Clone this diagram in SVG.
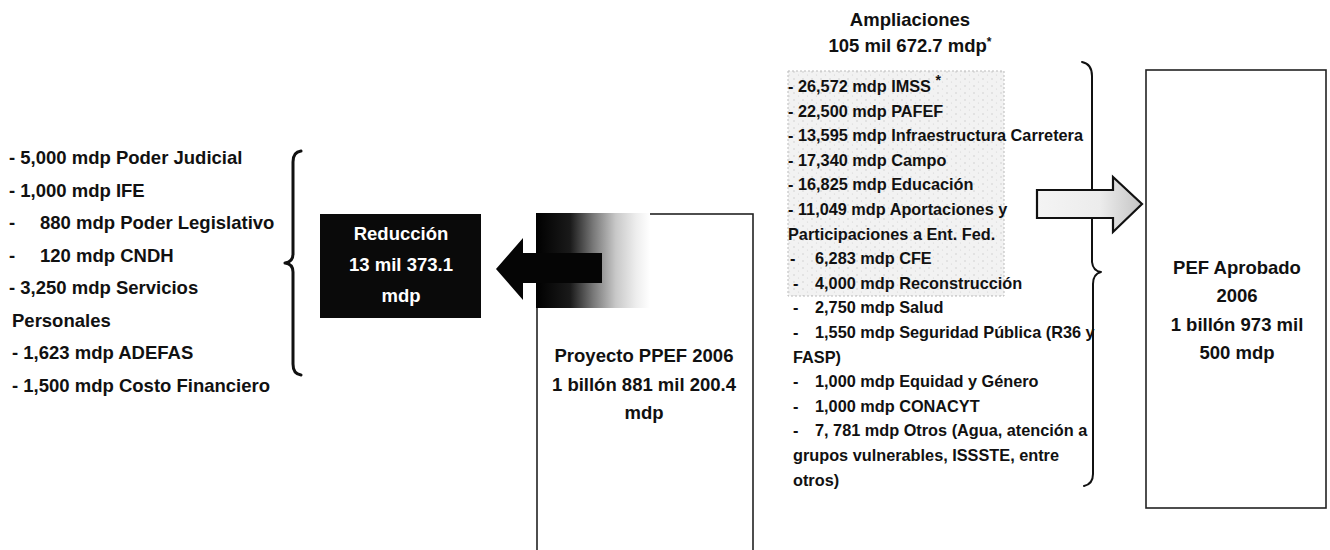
<svg xmlns="http://www.w3.org/2000/svg" width="1330" height="550" viewBox="0 0 1330 550">
<style>
text{font-family:"Liberation Sans",Arial,sans-serif;font-weight:bold;fill:#111}
.l{font-size:18.5px}
.a{font-size:16.3px}
.c{text-anchor:middle;font-size:18.5px}
.w{fill:#fff}
.brace{fill:none;stroke:#111;stroke-linecap:round;stroke-linejoin:round}
</style>
<defs>
<linearGradient id="fade" x1="0" y1="0" x2="1" y2="0">
<stop offset="0" stop-color="#000"/>
<stop offset="0.3" stop-color="#1a1a1a"/>
<stop offset="0.5" stop-color="#777"/>
<stop offset="0.7" stop-color="#c8c8c8"/>
<stop offset="0.88" stop-color="#eee"/>
<stop offset="1" stop-color="#fff"/>
</linearGradient>
<linearGradient id="arrowFill" x1="0" y1="0" x2="1" y2="0">
<stop offset="0" stop-color="#f4f4f4"/>
<stop offset="0.6" stop-color="#ececec"/>
<stop offset="1" stop-color="#c4c4c4"/>
</linearGradient>
<pattern id="speck" width="9" height="7" patternUnits="userSpaceOnUse">
<rect width="9" height="7" fill="#f2f2f2"/>
<circle cx="2" cy="2" r="0.7" fill="#c8c8c8"/>
<circle cx="6.5" cy="5" r="0.6" fill="#d4d4d4"/>
</pattern>
</defs>

<g id="reducciones-lista">
<text class="l" x="9" y="164">- 5,000 mdp Poder Judicial</text>
<text class="l" x="9" y="197">- 1,000 mdp IFE</text>
<text class="l" x="9" y="229">-</text><text class="l" x="40" y="229">880 mdp Poder Legislativo</text>
<text class="l" x="9" y="262">-</text><text class="l" x="40" y="262">120 mdp CNDH</text>
<text class="l" x="9" y="294">- 3,250 mdp Servicios</text>
<text class="l" x="12" y="327">Personales</text>
<text class="l" x="12" y="359">- 1,623 mdp ADEFAS</text>
<text class="l" x="12" y="392">- 1,500 mdp Costo Financiero</text>
</g>

<g id="reduccion">
<rect x="320" y="214" width="161" height="104" fill="#0a0a0a"/>
<text class="c w" x="401" y="240">Reducción</text>
<text class="c w" x="401" y="271">13 mil 373.1</text>
<text class="c w" x="401" y="302">mdp</text>
</g>

<g id="proyecto">
<rect x="537" y="214" width="216" height="345" fill="#fff" stroke="#222" stroke-width="1.6"/>
<rect x="536" y="213" width="114" height="95" fill="url(#fade)"/>
<text class="c" x="644" y="362">Proyecto PPEF 2006</text>
<text class="c" x="644" y="391">1 billón 881 mil 200.4</text>
<text class="c" x="644" y="419">mdp</text>
</g>

<g id="ampliaciones">
<rect x="788" y="71" width="216" height="225" fill="url(#speck)" stroke="#bbb" stroke-width="1" stroke-dasharray="2 2"/>
<text class="c" x="910" y="26">Ampliaciones</text>
<text class="c" x="910" y="52">105 mil 672.7 mdp<tspan font-size="12" dy="-6">*</tspan></text>
<text class="a" x="788" y="92">- 26,572 mdp IMSS <tspan font-size="14" dy="-7">*</tspan></text>
<text class="a" x="788" y="117">- 22,500 mdp PAFEF</text>
<text class="a" x="788" y="141">- 13,595 mdp Infraestructura Carretera</text>
<text class="a" x="788" y="166">- 17,340 mdp Campo</text>
<text class="a" x="788" y="190">- 16,825 mdp Educación</text>
<text class="a" x="788" y="215">- 11,049 mdp Aportaciones y</text>
<text class="a" x="788" y="240">Participaciones a Ent. Fed.</text>
<text class="a" x="790" y="264">-</text><text class="a" x="815" y="264">6,283 mdp CFE</text>
<text class="a" x="793" y="289">-</text><text class="a" x="815" y="289">4,000 mdp Reconstrucción</text>
<text class="a" x="793" y="313">-</text><text class="a" x="815" y="313">2,750 mdp Salud</text>
<text class="a" x="793" y="338">-</text><text class="a" x="815" y="338">1,550 mdp Seguridad Pública (R36 y</text>
<text class="a" x="793" y="363">FASP)</text>
<text class="a" x="793" y="387">-</text><text class="a" x="815" y="387">1,000 mdp Equidad y Género</text>
<text class="a" x="793" y="412">-</text><text class="a" x="815" y="412">1,000 mdp CONACYT</text>
<text class="a" x="793" y="436">-</text><text class="a" x="815" y="436">7, 781 mdp Otros (Agua, atención a</text>
<text class="a" x="793" y="461">grupos vulnerables, ISSSTE, entre</text>
<text class="a" x="793" y="486">otros)</text>
</g>

<g id="pef-aprobado">
<rect x="1146" y="70" width="180" height="438" fill="#fff" stroke="#222" stroke-width="1.6"/>
<text class="c" x="1237" y="274">PEF Aprobado</text>
<text class="c" x="1237" y="302">2006</text>
<text class="c" x="1237" y="331">1 billón 973 mil</text>
<text class="c" x="1237" y="359">500 mdp</text>
</g>

<g id="connectors">
<path class="brace" stroke-width="3" d="M301,151 Q293,152 293,162 L293,254 Q293,262 285,263 Q293,264 293,272 L293,364 Q293,374 301,375"/>
<path class="brace" stroke-width="2" d="M1082,62 Q1092,64 1092,76 L1092,262 Q1093,271 1101,272 Q1093,274 1093,284 L1093,474 Q1093,484 1084,486"/>
<path d="M496,269 L523,238 L523,253 L602,253 L602,283 L523,283 L523,300 Z" fill="#050505"/>
<path d="M1037,190 L1113,190 L1113,177 L1142,204 L1113,232 L1113,218 L1037,218 Z" fill="url(#arrowFill)" stroke="#111" stroke-width="2.2" stroke-linejoin="miter"/>
</g>
</svg>
